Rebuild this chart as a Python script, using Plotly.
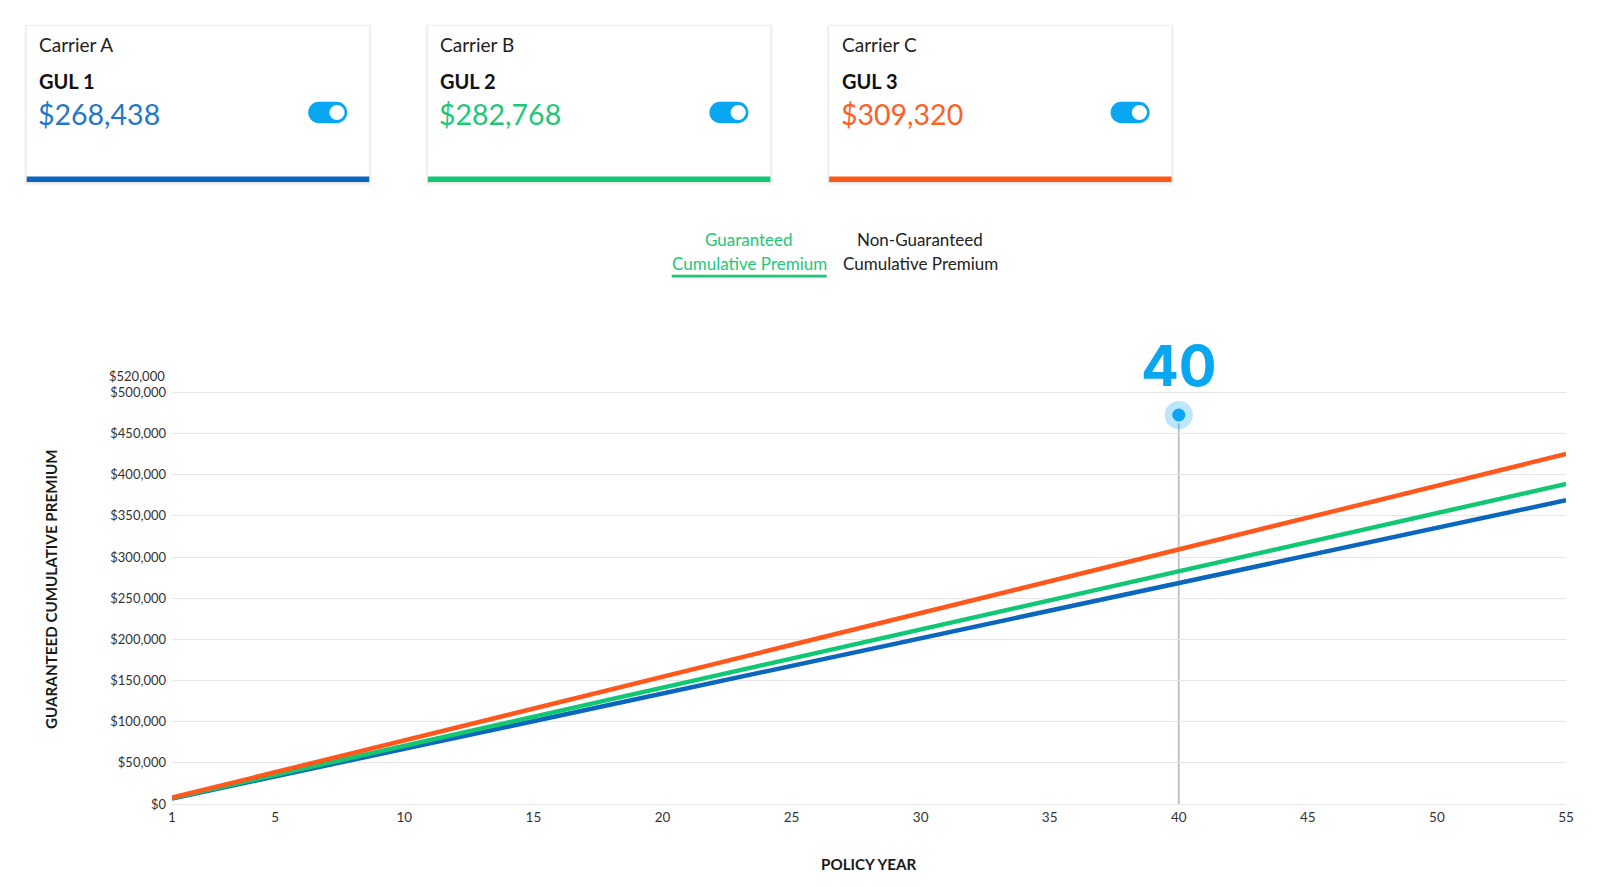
import plotly.graph_objects as go

# ---------------- data ----------------
years = [1, 5, 10, 15, 20, 25, 30, 35, 40, 45, 50, 55]
carrier_names = ["Carrier A", "Carrier B", "Carrier C"]
product_names = ["GUL 1", "GUL 2", "GUL 3"]
gul1_premium = [6700, 33600, 67100, 100700, 134200, 167800, 201300, 234900, 268438, 302000, 335500, 369100]
gul2_premium = [7100, 35300, 70700, 106000, 141400, 176700, 212100, 247400, 282768, 318100, 353500, 388800]
gul3_premium = [7700, 38700, 77300, 116000, 154700, 193300, 232000, 270700, 309320, 348000, 386700, 425300]
selected_year = 40
y_ticks = [0, 50000, 100000, 150000, 200000, 250000, 300000, 350000, 400000, 450000, 500000]
y_tick_labels = ["$0", "$50,000", "$100,000", "$150,000", "$200,000", "$250,000",
                 "$300,000", "$350,000", "$400,000", "$450,000", "$500,000"]
y_max = 520000
y_max_label = "$520,000"
x_ticks = [1, 5, 10, 15, 20, 25, 30, 35, 40, 45, 50, 55]
tab_titles = ["Guaranteed", "Non-Guaranteed"]
tab_subtitle = "Cumulative Premium"
y_title = "GUARANTEED CUMULATIVE PREMIUM"
x_title = "POLICY YEAR"

series = [gul1_premium, gul2_premium, gul3_premium]
line_colors = ["#0a67bd", "#10c874", "#ff571c"]
value_colors = ["#1f78c8", "#1cc878", "#ff5f26"]
accent = "#09a6f2"
FONT = "Lato"

# ---------------- geometry helpers ----------------
W, H = 1611, 887
L, R, T, B = 172, 45, 376, 83
pw = W - L - R
ph = H - T - B


def px(x):
    return (x - L) / pw


def py(y):
    return (H - B - y) / ph


fig = go.Figure()

for name, vals, col in zip(product_names, series, line_colors):
    fig.add_trace(go.Scatter(x=years, y=vals, mode="lines", name=name,
                             line=dict(color=col, width=4.5), hoverinfo="skip",
                             showlegend=False))

# selected-year marker
marker_frac = (H - B - 415) / ph
marker_y = marker_frac * y_max
fig.add_trace(go.Scatter(x=[selected_year], y=[marker_y], mode="markers",
                         marker=dict(size=28, color="rgba(9,166,242,0.28)"),
                         cliponaxis=False, hoverinfo="skip", showlegend=False))
fig.add_trace(go.Scatter(x=[selected_year], y=[marker_y], mode="markers",
                         marker=dict(size=13, color=accent),
                         cliponaxis=False, hoverinfo="skip", showlegend=False))

shapes = []
annotations = []

# vertical guide line
shapes.append(dict(type="line", xref="x", yref="y domain", x0=selected_year, x1=selected_year,
                   y0=0, y1=marker_frac - 0.02, line=dict(color="rgba(110,125,145,0.45)", width=2),
                   layer="below"))

annotations.append(dict(text=f"<b>{selected_year}</b>", xref="x", yref="paper",
                        x=selected_year, y=py(366), xanchor="center", yanchor="middle",
                        showarrow=False, font=dict(family="Inter", size=56, color=accent, weight=900)))


def pill_path(x0, y0, x1, y1):
    r = (y1 - y0) / 2
    k = 0.5523 * r
    ym = (y0 + y1) / 2
    pts = [
        ("M", [(x0 + r, y0)]),
        ("L", [(x1 - r, y0)]),
        ("C", [(x1 - r + k, y0), (x1, ym - k), (x1, ym)]),
        ("C", [(x1, ym + k), (x1 - r + k, y1), (x1 - r, y1)]),
        ("L", [(x0 + r, y1)]),
        ("C", [(x0 + r - k, y1), (x0, ym + k), (x0, ym)]),
        ("C", [(x0, ym - k), (x0 + r - k, y0), (x0 + r, y0)]),
    ]
    s = ""
    for cmd, plist in pts:
        s += cmd + " " + " ".join(f"{px(a):.5f},{py(b):.5f}" for a, b in plist) + " "
    return s + "Z"


# cards
sel_idx = years.index(selected_year)
for i in range(3):
    cx0 = 26.7 + i * 401.2
    cx1 = cx0 + 342.5
    cy0, cy1 = 26, 182
    shapes.append(dict(type="rect", xref="paper", yref="paper", x0=px(cx0 - 2.5), x1=px(cx1 + 2.5),
                       y0=py(cy0 - 1.5), y1=py(cy1 + 3.5), fillcolor="rgba(0,0,0,0.035)", line_width=0))
    shapes.append(dict(type="rect", xref="paper", yref="paper", x0=px(cx0 - 1), x1=px(cx1 + 1),
                       y0=py(cy0 - 0.5), y1=py(cy1 + 1.5), fillcolor="rgba(0,0,0,0.06)", line_width=0))
    shapes.append(dict(type="rect", xref="paper", yref="paper", x0=px(cx0), x1=px(cx1),
                       y0=py(cy0), y1=py(cy1), fillcolor="white", line_width=0))
    shapes.append(dict(type="rect", xref="paper", yref="paper", x0=px(cx0), x1=px(cx1),
                       y0=py(176.5), y1=py(cy1), fillcolor=line_colors[i], line_width=0))
    tx = cx0 + 10.5
    annotations.append(dict(text=carrier_names[i], xref="paper", yref="paper", x=px(tx), y=py(44.8),
                            xanchor="left", yanchor="middle", showarrow=False,
                            font=dict(family=FONT, size=19, color="#222222")))
    annotations.append(dict(text=f"<b>{product_names[i]}</b>", xref="paper", yref="paper", x=px(tx),
                            y=py(81), xanchor="left", yanchor="middle", showarrow=False,
                            font=dict(family=FONT, size=20, color="#111111")))
    annotations.append(dict(text=f"${series[i][sel_idx]:,}", xref="paper", yref="paper", x=px(tx - 1),
                            y=py(113.5), xanchor="left", yanchor="middle", showarrow=False,
                            font=dict(family=FONT, size=28.5, color=value_colors[i])))
    # toggle
    shapes.append(dict(type="path", xref="paper", yref="paper",
                       path=pill_path(cx0 + 281.5, 101.8, cx0 + 320.5, 123.2),
                       fillcolor=accent, line_width=0))
    kx, ky, kr = cx0 + 310.3, 112.5, 7.6
    shapes.append(dict(type="circle", xref="paper", yref="paper", x0=px(kx - kr), x1=px(kx + kr),
                       y0=py(ky - kr), y1=py(ky + kr), fillcolor="white", line_width=0))

# tabs
tab_x = [749, 920]
tab_colors = ["#1cc878", "#222222"]
for tx, title, col in zip(tab_x, tab_titles, tab_colors):
    annotations.append(dict(text=title, xref="paper", yref="paper", x=px(tx), y=py(240),
                            xanchor="center", yanchor="middle", showarrow=False,
                            font=dict(family=FONT, size=17, color=col)))
    annotations.append(dict(text=tab_subtitle, xref="paper", yref="paper", x=px(tx), y=py(263),
                            xanchor="center", yanchor="middle", showarrow=False,
                            font=dict(family=FONT, size=17, color=col)))
shapes.append(dict(type="rect", xref="paper", yref="paper", x0=px(671.7), x1=px(826.7),
                   y0=py(274.8), y1=py(277.6), fillcolor="#1cc878", line_width=0))

# extra top tick label
annotations.append(dict(text=y_max_label, xref="paper", yref="y", x=0, y=y_max, xanchor="right",
                        yanchor="middle", xshift=-5, showarrow=False,
                        font=dict(family=FONT, size=13, color="#333333")))

# axis titles
annotations.append(dict(text=f"<b>{y_title}</b>", xref="paper", yref="paper", x=px(51), y=py(589),
                        xanchor="center", yanchor="middle", textangle=-90, showarrow=False,
                        font=dict(family=FONT, size=15.2, color="#1a1a1a")))
annotations.append(dict(text=f"<b>{x_title}</b>", xref="paper", yref="paper", x=px(869), y=py(864),
                        xanchor="center", yanchor="middle", showarrow=False,
                        font=dict(family=FONT, size=15.2, color="#1a1a1a")))

fig.update_layout(
    width=W, height=H, autosize=False,
    margin=dict(l=L, r=R, t=T, b=B, pad=0),
    paper_bgcolor="white", plot_bgcolor="white",
    font=dict(family=FONT, size=13, color="#333333"),
    shapes=shapes, annotations=annotations,
    xaxis=dict(range=[1, 55], tickvals=x_ticks, showgrid=False, zeroline=False, showline=False,
               ticks="", ticklabelstandoff=3, tickfont=dict(size=13.5, color="#333333"),
               fixedrange=True),
    yaxis=dict(range=[0, y_max], tickvals=y_ticks, ticktext=y_tick_labels, showgrid=True,
               gridcolor="#e6e6e6", gridwidth=1, zeroline=True, zerolinecolor="#e6e6e6",
               zerolinewidth=1, showline=False, ticks="", ticklabelstandoff=5,
               tickfont=dict(size=13, color="#333333"), fixedrange=True),
    showlegend=False,
)

fig.write_html("out.html", config={"displayModeBar": False})
